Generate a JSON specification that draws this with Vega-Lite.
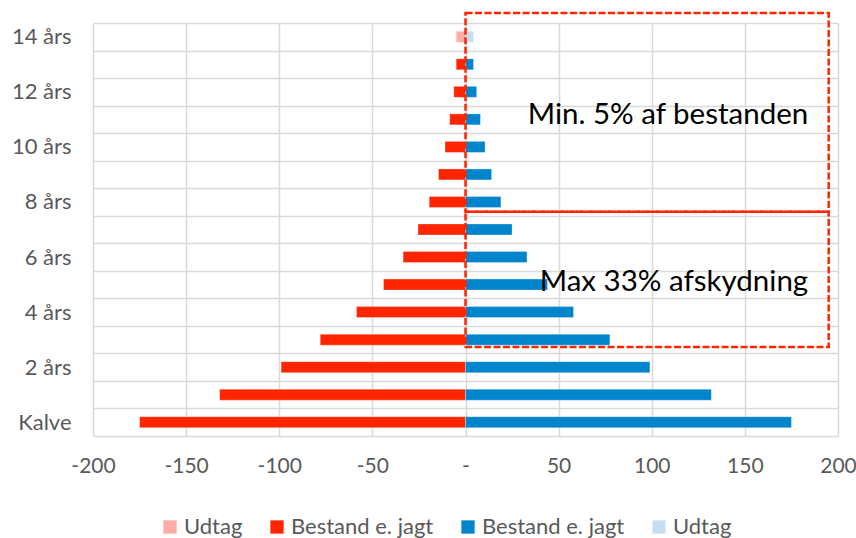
{
  "$schema": "https://vega.github.io/schema/vega-lite/v6.json",
  "width": 745,
  "height": 413,
  "autosize": "none",
  "padding": {"left": 93, "top": 23, "right": 18, "bottom": 102},
  "background": "white",
  "config": {"view": {"stroke": null}, "font": "Lato", "axis": {"gridColor": "#d9d9d9", "gridWidth": 1.5}},
  "datasets": {
    "bars": [
      {"age": 0, "series": "Bestand-", "value": -175},
      {"age": 0, "series": "Bestand+", "value": 175},
      {"age": 1, "series": "Bestand-", "value": -132},
      {"age": 1, "series": "Bestand+", "value": 132},
      {"age": 2, "series": "Bestand-", "value": -99},
      {"age": 2, "series": "Bestand+", "value": 99},
      {"age": 3, "series": "Bestand-", "value": -78},
      {"age": 3, "series": "Bestand+", "value": 77.5},
      {"age": 4, "series": "Bestand-", "value": -58.5},
      {"age": 4, "series": "Bestand+", "value": 58},
      {"age": 5, "series": "Bestand-", "value": -44},
      {"age": 5, "series": "Bestand+", "value": 44},
      {"age": 6, "series": "Bestand-", "value": -33.5},
      {"age": 6, "series": "Bestand+", "value": 33},
      {"age": 7, "series": "Bestand-", "value": -25.5},
      {"age": 7, "series": "Bestand+", "value": 25},
      {"age": 8, "series": "Bestand-", "value": -19.5},
      {"age": 8, "series": "Bestand+", "value": 19},
      {"age": 9, "series": "Bestand-", "value": -14.5},
      {"age": 9, "series": "Bestand+", "value": 14},
      {"age": 10, "series": "Bestand-", "value": -11},
      {"age": 10, "series": "Bestand+", "value": 10.5},
      {"age": 11, "series": "Bestand-", "value": -8.5},
      {"age": 11, "series": "Bestand+", "value": 8},
      {"age": 12, "series": "Bestand-", "value": -6.3},
      {"age": 12, "series": "Bestand+", "value": 6},
      {"age": 13, "series": "Bestand-", "value": -5},
      {"age": 13, "series": "Bestand+", "value": 4.3},
      {"age": 14, "series": "Udtag-", "value": -5},
      {"age": 14, "series": "Udtag+", "value": 4.3}
    ],
    "boxes": [
      {"label": "Min. 5% af bestanden", "age_lo": 7.645, "age_hi": 14.86, "v_lo": 0, "v_hi": 195, "text_age": 11.17, "text_v": 184},
      {"label": "Max 33% afskydning", "age_lo": 2.736, "age_hi": 7.645, "v_lo": 0, "v_hi": 195, "text_age": 5.1, "text_v": 184}
    ]
  },
  "resolve": {"axis": {"y": "independent"}},
  "layer": [
    {
      "data": {"name": "bars"},
      "mark": {"type": "bar", "orient": "horizontal", "height": 11, "stroke": "white", "strokeWidth": 0.6, "strokeOpacity": 0.5},
      "encoding": {
        "y": {
          "field": "age", "type": "quantitative",
          "scale": {"domain": [-0.5, 14.5], "nice": false, "zero": false, "padding": 0},
          "axis": {
            "title": null, "values": [0, 2, 4, 6, 8, 10, 12, 14],
            "labelExpr": "datum.value == 0 ? 'Kalve' : datum.value + ' års'",
            "grid": false, "ticks": false, "domain": false, "labelFlush": false,
            "labelPadding": 22, "labelFontSize": 22, "labelColor": "#595959"
          }
        },
        "x": {
          "field": "value", "type": "quantitative",
          "scale": {"domain": [-200, 200], "nice": false, "padding": 0},
          "axis": {
            "title": null, "values": [-200, -150, -100, -50, 0, 50, 100, 150, 200],
            "labelExpr": "datum.value == 0 ? '-' : '' + datum.value",
            "grid": true, "ticks": false, "domain": false, "labelFlush": false,
            "labelPadding": 19, "labelFontSize": 21, "labelColor": "#595959"
          }
        },
        "color": {
          "field": "series", "type": "nominal",
          "scale": {
            "domain": ["Udtag-", "Bestand-", "Bestand+", "Udtag+"],
            "range": ["#FFABA6", "#FF2500", "#0084CC", "#C6DDF1"]
          },
          "legend": {
            "title": null, "orient": "none", "direction": "horizontal",
            "legendX": 66, "legendY": 493, "padding": 0,
            "labelExpr": "indexof(datum.label, 'Udtag') == 0 ? 'Udtag' : 'Bestand e. jagt'",
            "symbolType": "square", "symbolSize": 177, "symbolStrokeWidth": 0,
            "labelFontSize": 22, "labelColor": "#595959", "labelOffset": 3,
            "columnPadding": 23
          }
        }
      }
    },
    {
      "data": {"name": "boxes"},
      "mark": {"type": "rect", "fill": null, "fillOpacity": 0, "stroke": "#FF2500", "strokeWidth": 2.5, "strokeDash": [7, 2.5]},
      "encoding": {
        "x": {"field": "v_lo", "type": "quantitative"},
        "x2": {"field": "v_hi"},
        "y": {
          "field": "age_lo", "type": "quantitative",
          "axis": {
            "title": null, "orient": "right",
            "values": [-0.5, 0.5, 1.5, 2.5, 3.5, 4.5, 5.5, 6.5, 7.5, 8.5, 9.5, 10.5, 11.5, 12.5, 13.5, 14.5],
            "labels": false, "ticks": false, "domain": false, "grid": true
          }
        },
        "y2": {"field": "age_hi"}
      }
    },
    {
      "data": {"name": "boxes"},
      "mark": {"type": "text", "align": "right", "baseline": "middle", "fontSize": 29.5, "font": "Lato", "color": "#000000"},
      "encoding": {
        "x": {"field": "text_v", "type": "quantitative"},
        "y": {"field": "text_age", "type": "quantitative", "axis": null},
        "text": {"field": "label"}
      }
    }
  ]
}
